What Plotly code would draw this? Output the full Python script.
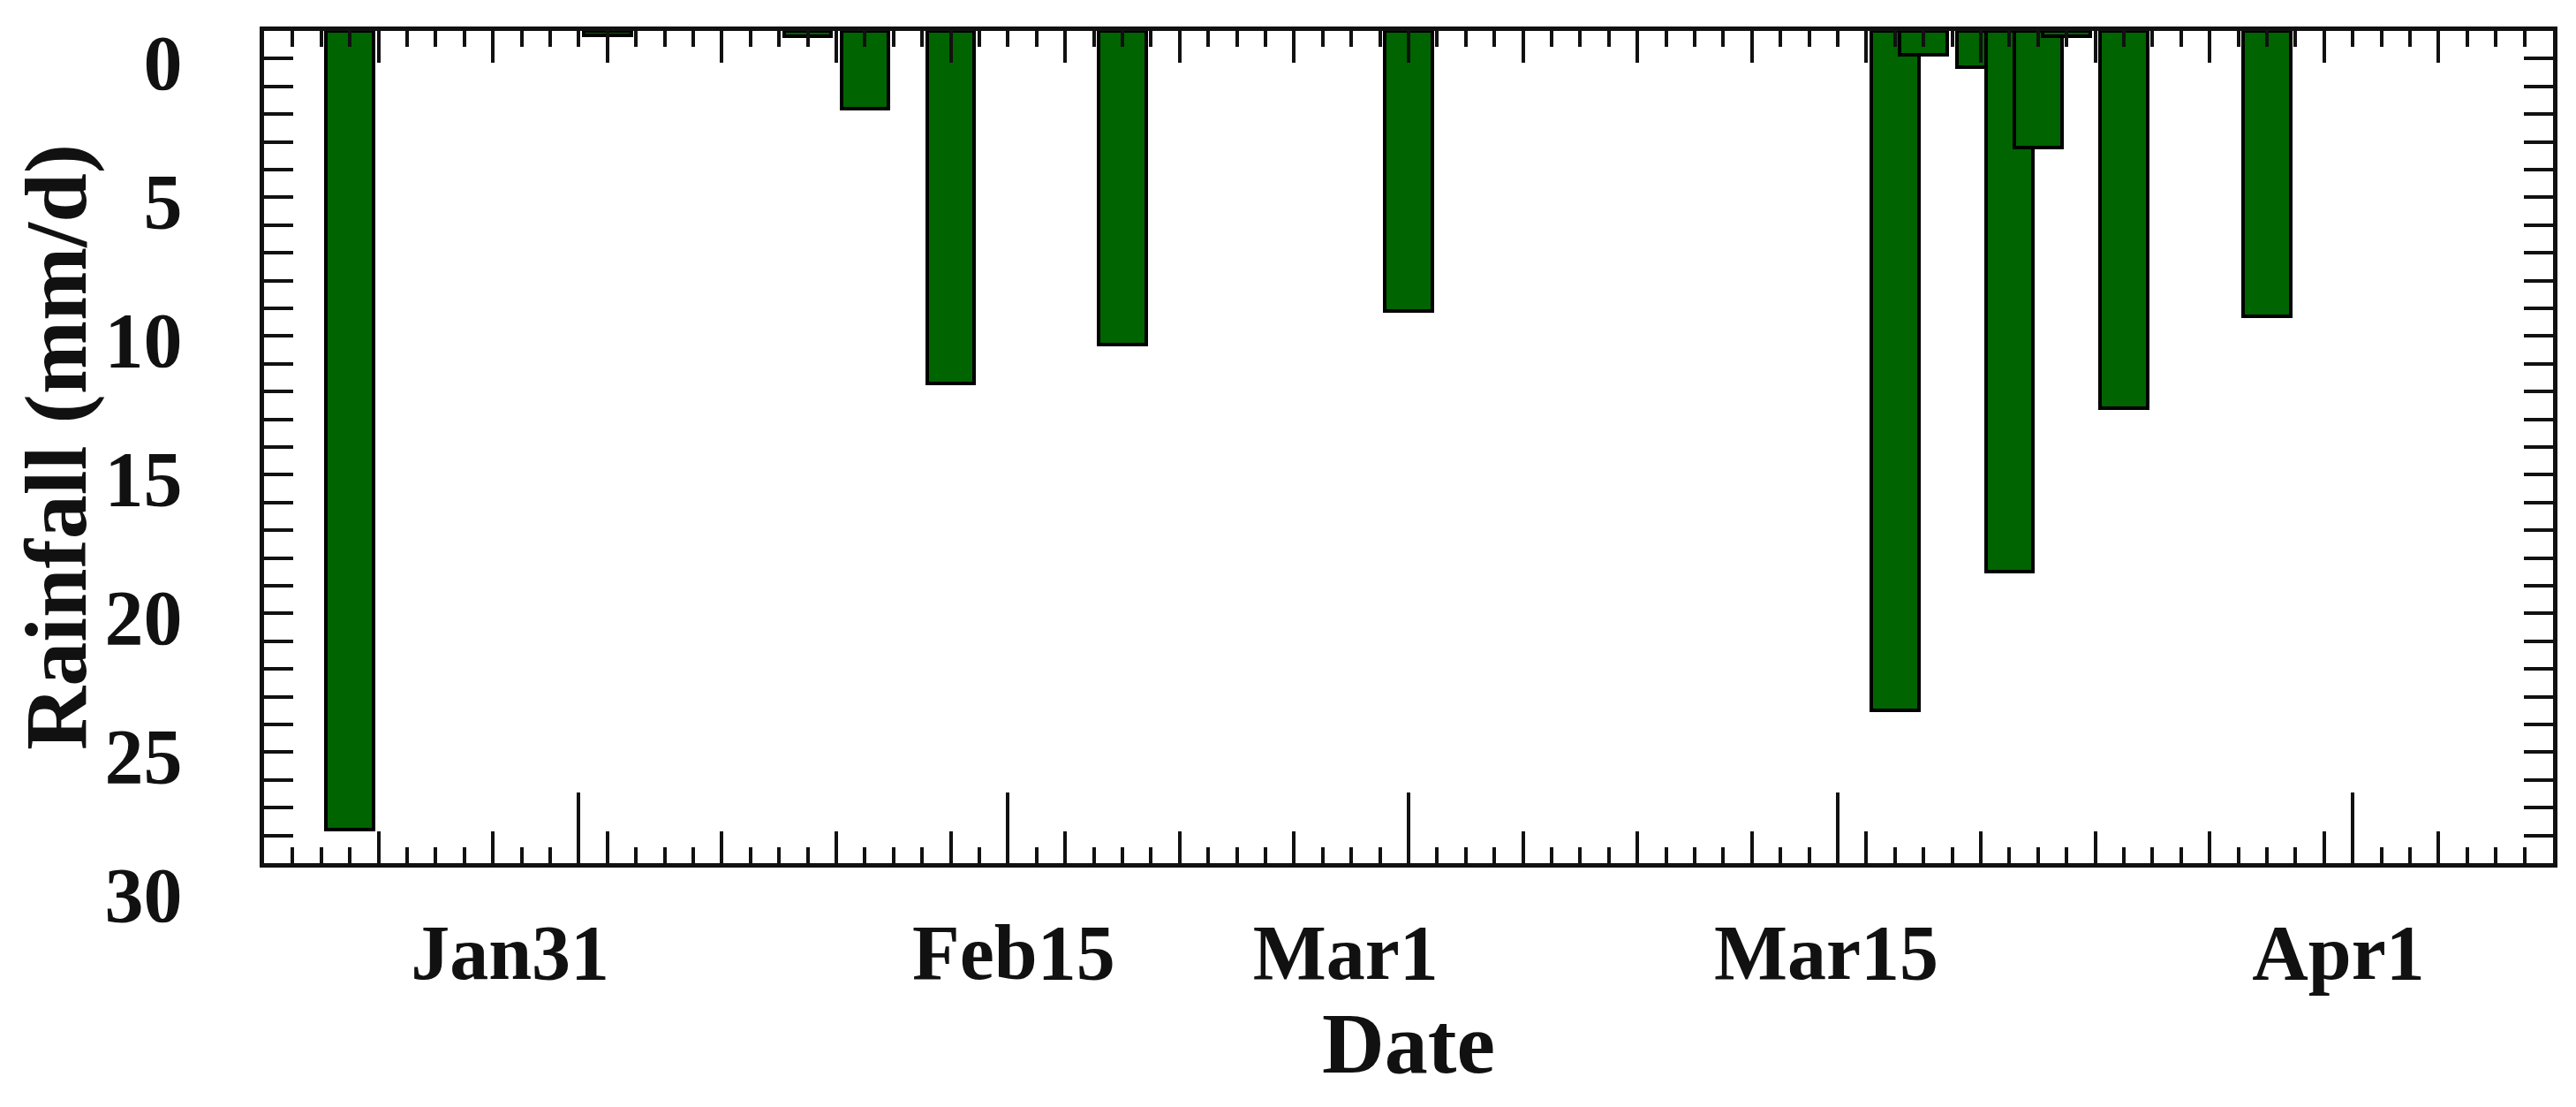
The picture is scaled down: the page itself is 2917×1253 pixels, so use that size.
import plotly.graph_objects as go

# ---- data ----
dates = ["2017-01-23", "2017-02-01", "2017-02-08", "2017-02-10", "2017-02-13",
         "2017-02-19", "2017-03-01", "2017-03-18", "2017-03-19", "2017-03-21",
         "2017-03-22", "2017-03-23", "2017-03-24", "2017-03-26", "2017-03-31"]
rainfall = [28.8, 0.15, 0.2, 2.8, 12.7,
            11.3, 10.1, 24.5, 0.85, 1.3,
            19.5, 4.2, 0.2, 13.6, 10.3]

tick_labels = ["Jan31", "Feb15", "Mar1", "Mar15", "Apr1"]
label_positions = ["2017-01-28 14:24", "2017-02-15 04:48", "2017-02-26 19:12",
                   "2017-03-15 14:24", "2017-04-02 12:00"]
long_tick_dates = ["2017-01-31", "2017-02-15", "2017-03-01", "2017-03-16", "2017-04-03"]
x_range = ["2017-01-20", "2017-04-10"]
y_range = [30, 0]

DAY = 86400000
FONT = "Liberation Serif"
INK = "#111111"

fig = go.Figure()
fig.add_trace(go.Bar(
    x=dates, y=rainfall,
    width=[1.65 * DAY] * len(dates),
    marker=dict(color="#006400", line=dict(color="black", width=4)),
    showlegend=False,
))
# empty traces so the helper (tick-only) axes are created
for ax in ("x2", "x3"):
    fig.add_trace(go.Scatter(x=[], y=[], xaxis=ax, yaxis="y", showlegend=False,
                             hoverinfo="skip"))

tickfont = dict(family=FONT, size=88, color=INK, weight="bold")

fig.update_layout(
    width=2909, height=1245,
    margin=dict(l=291, r=26, t=27, b=276),
    paper_bgcolor="white", plot_bgcolor="white",
    bargap=0,
    xaxis=dict(
        type="date", range=x_range,
        tickmode="array", tickvals=label_positions, ticktext=tick_labels,
        ticks="", showgrid=False, showline=False, zeroline=False,
        tickfont=tickfont, ticklabelstandoff=42,
        title=dict(text="Date", font=dict(family=FONT, size=98, color=INK, weight="bold"),
                   standoff=2),
    ),
    xaxis2=dict(
        type="date", range=x_range, overlaying="x", anchor="y", side="bottom",
        tick0="2017-01-28", dtick=4 * DAY, ticks="inside", ticklen=36, tickwidth=4,
        tickcolor=INK, showticklabels=False, showgrid=False, zeroline=False,
        showline=True, linewidth=5, linecolor=INK, mirror="allticks",
        minor=dict(tick0="2017-01-28", dtick=DAY, ticks="inside", ticklen=18,
                   tickwidth=4, tickcolor=INK, showgrid=False),
    ),
    xaxis3=dict(
        type="date", range=x_range, overlaying="x", anchor="y", side="bottom",
        tickmode="array", tickvals=long_tick_dates, ticks="inside", ticklen=80,
        tickwidth=4, tickcolor=INK, showticklabels=False, showgrid=False,
        zeroline=False, showline=False,
    ),
    yaxis=dict(
        range=y_range, tick0=0, dtick=5, ticks="inside", ticklen=33, tickwidth=4,
        tickcolor=INK, showgrid=False, zeroline=False,
        showline=True, linewidth=5, linecolor=INK, mirror="allticks",
        minor=dict(dtick=1, ticks="inside", ticklen=18, tickwidth=4, tickcolor=INK,
                   showgrid=False),
        tickfont=tickfont, ticklabelstandoff=70, ticklabelshift=-35,
        title=dict(text="Rainfall (mm/d)",
                   font=dict(family=FONT, size=100, color=INK, weight="bold"),
                   standoff=20),
    ),
)

fig.write_html("out.html")
